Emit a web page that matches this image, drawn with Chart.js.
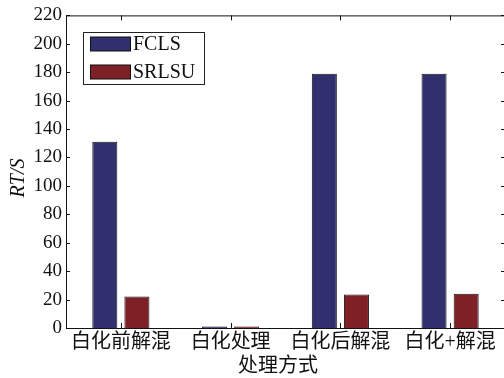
<!DOCTYPE html>
<html>
<head>
<meta charset="utf-8">
<script src="https://cdn.jsdelivr.net/npm/chart.js@4"></script>
<style>
  html, body { margin: 0; padding: 0; background: #fff; overflow: hidden; }
  #wrap { width: 504px; height: 378px; overflow: hidden; }
  canvas { display: block; }
</style>
</head>
<body>
<div id="wrap"><canvas id="c" width="506" height="378"></canvas></div>
<script>
// processing methods (x categories)
const categories = ['白化前解混', '白化处理', '白化后解混', '白化+解混'];
// run time in seconds
const fclsTimes = [131, 1.1, 179, 179];
const srlsuTimes = [22.2, 1.1, 23.6, 24.1];
// y axis ticks
const yTicks = [0, 20, 40, 60, 80, 100, 120, 140, 160, 180, 200, 220];
const seriesNames = ['FCLS', 'SRLSU'];

const serif = "'Liberation Serif', 'Times New Roman', 'Noto Sans CJK SC', serif";
const mixed = "'Liberation Serif', 'Noto Sans CJK SC', serif";

// box frame, inward ticks, legend and axis titles
const framePlugin = {
  id: 'frame',
  afterDraw(chart) {
    const ctx = chart.ctx;
    const a = chart.chartArea;
    const xs = chart.scales.x, ys = chart.scales.y;
    ctx.save();
    ctx.strokeStyle = '#111';
    ctx.lineWidth = 1;
    ctx.beginPath();
    // top and right edges
    ctx.moveTo(a.left, a.top + 0.5); ctx.lineTo(a.right, a.top + 0.5);
    ctx.moveTo(a.right - 0.5, a.top); ctx.lineTo(a.right - 0.5, a.bottom);
    // y ticks pointing inward on both sides
    yTicks.forEach(v => {
      const y = Math.round(ys.getPixelForValue(v)) + 0.5;
      ctx.moveTo(a.left, y); ctx.lineTo(a.left + 4, y);
      ctx.moveTo(a.right, y); ctx.lineTo(a.right - 4, y);
    });
    // x ticks at category centres, top and bottom
    categories.forEach((c, i) => {
      const x = Math.round(xs.getPixelForValue(i)) + 0.5;
      ctx.moveTo(x, a.bottom); ctx.lineTo(x, a.bottom - 5);
      ctx.moveTo(x, a.top); ctx.lineTo(x, a.top + 5);
    });
    ctx.stroke();

    // legend
    const lx = 83.5, ly = 32.5, lw = 121, lh = 52;
    ctx.fillStyle = '#fff';
    ctx.fillRect(lx, ly, lw, lh);
    ctx.strokeStyle = '#222';
    ctx.strokeRect(lx, ly, lw, lh);
    ctx.font = '20px ' + serif;
    ctx.textBaseline = 'middle';
    ctx.textAlign = 'left';
    chart.data.datasets.forEach((ds, i) => {
      const cy = 44 + i * 28;
      ctx.fillStyle = ds.backgroundColor;
      ctx.fillRect(90.5, cy - 7, 40, 14);
      ctx.strokeStyle = '#111';
      ctx.strokeRect(90.5, cy - 7, 40, 14);
      ctx.fillStyle = '#111';
      ctx.fillText(ds.label, 133, cy + 1);
    });

    // axis titles
    ctx.fillStyle = '#111';
    ctx.textAlign = 'center';
    ctx.font = '20px ' + mixed;
    ctx.fillText('处理方式', 278, 367);
    ctx.save();
    ctx.translate(19, 178);
    ctx.rotate(-Math.PI / 2);
    ctx.font = 'italic 20px ' + serif;
    ctx.fillText('RT/S', 0, 0);
    ctx.restore();
    ctx.restore();
  }
};

new Chart(document.getElementById('c'), {
  type: 'bar',
  data: {
    labels: categories,
    datasets: [
      { label: seriesNames[0], data: fclsTimes, backgroundColor: '#30306e', borderColor: '#151515', borderWidth: 1 },
      { label: seriesNames[1], data: srlsuTimes, backgroundColor: '#7f2026', borderColor: '#151515', borderWidth: 1 }
    ]
  },
  options: {
    responsive: false,
    animation: false,
    devicePixelRatio: 1,
    layout: { padding: { top: 14, left: 0, right: 1, bottom: 0 } },
    datasets: { bar: { categoryPercentage: 0.585, barPercentage: 0.78 } },
    plugins: { legend: { display: false }, tooltip: { enabled: false } },
    scales: {
      x: {
        grid: { display: false, drawTicks: false },
        border: { display: true, color: '#111', width: 1 },
        ticks: { color: '#111', padding: 3, maxRotation: 0, autoSkip: false, font: { family: mixed, size: 20 } },
        afterFit(scale) { scale.height = 50; }
      },
      y: {
        min: 0,
        max: 220,
        afterBuildTicks(scale) { scale.ticks = yTicks.map(v => ({ value: v })); },
        grid: { display: false, drawTicks: false },
        border: { display: true, color: '#111', width: 1 },
        ticks: { color: '#111', padding: 4, font: { family: serif, size: 19 } },
        afterFit(scale) { scale.width = 66; }
      }
    }
  },
  plugins: [framePlugin]
});
</script>
</body>
</html>
